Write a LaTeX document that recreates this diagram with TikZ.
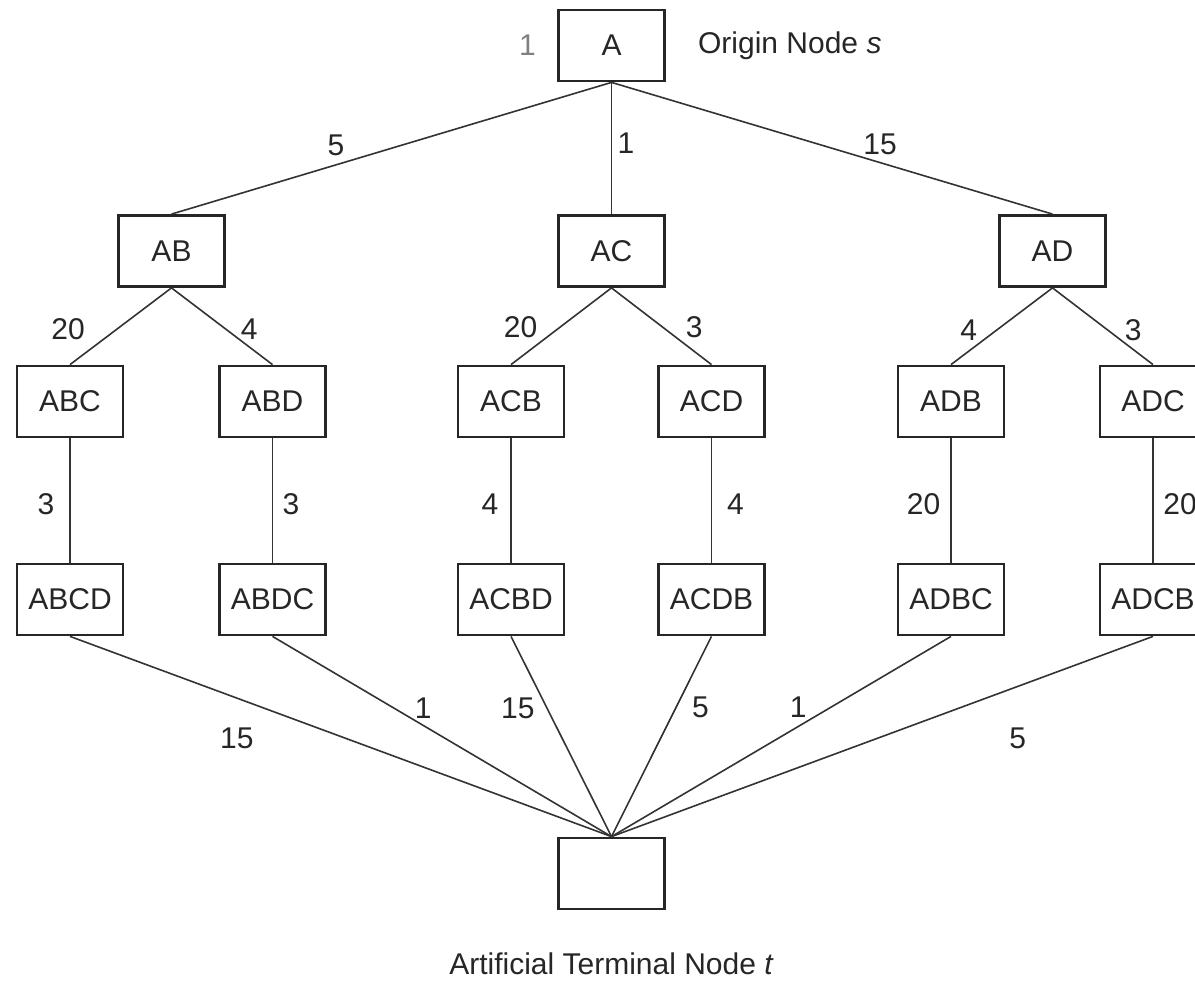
\documentclass[tikz,border=0pt]{standalone}
\usepackage{fontspec}
\setmainfont{Liberation Sans}
\usetikzlibrary{positioning}
\tikzset{
    tree-box/.style = {draw=black!85, line width=2.8pt, rectangle, minimum width=106pt, minimum height=71pt, inner sep=0pt, font=\fontsize{30}{36}\selectfont, text=black!85},
    cost-label/.style = {inner sep=0pt, font=\fontsize{30}{36}\selectfont, text=black!85},
    tree-edge/.style = {draw=black!80, line width=1.6pt},
}

\begin{document}
\begin{tikzpicture}[x=1pt, y=-1pt]
\useasboundingbox (0,0) rectangle (1195,982);

% root
\node[tree-box] (A) at (611.5,45.5) {A};
\node[cost-label, left=21pt of A, text=black!50] (rank) {1};
\node[cost-label, right=32pt of A] (origin) {Origin Node \textit{s}};

% first level
\node[tree-box] (AB) at (171.5,251) {AB};
\node[tree-box] (AC) at (611.5,251) {AC};
\node[tree-box] (AD) at (1052.5,251) {AD};

% second level
\node[tree-box] (ABC) at (70,401.5) {ABC};
\node[tree-box] (ABD) at (272.5,401.5) {ABD};
\node[tree-box] (ACB) at (511,401.5) {ACB};
\node[tree-box] (ACD) at (711.5,401.5) {ACD};
\node[tree-box] (ADB) at (951,401.5) {ADB};
\node[tree-box] (ADC) at (1153,401.5) {ADC};

% complete tours
\node[tree-box] (ABCD) at (70,599.5) {ABCD};
\node[tree-box] (ABDC) at (272.5,599.5) {ABDC};
\node[tree-box] (ACBD) at (511,599.5) {ACBD};
\node[tree-box] (ACDB) at (711.5,599.5) {ACDB};
\node[tree-box] (ADBC) at (951,599.5) {ADBC};
\node[tree-box] (ADCB) at (1153,599.5) {ADCB};

% terminal
\node[tree-box] (T) at (611.5,873.5) {};
\node[cost-label, below=42pt of T] (terminal) {Artificial Terminal Node \textit{t}};

% edges with costs
\draw[tree-edge] (A.south) -- node[cost-label, pos=.626, yshift=20pt] {5} (AB.north);
\draw[tree-edge] (A.south) -- node[cost-label, pos=.46, xshift=14.5pt] {1} (AC.north);
\draw[tree-edge] (A.south) -- node[cost-label, pos=.609, yshift=18pt] {15} (AD.north);

\draw[tree-edge] (AB.south) -- node[cost-label, pos=.536, xshift=-49pt] {20} (ABC.north);
\draw[tree-edge] (AB.south) -- node[cost-label, pos=.536, xshift=23.5pt] {4} (ABD.north);
\draw[tree-edge] (AC.south) -- node[cost-label, pos=.516, xshift=-39pt] {20} (ACB.north);
\draw[tree-edge] (AC.south) -- node[cost-label, pos=.516, xshift=31pt] {3} (ACD.north);
\draw[tree-edge] (AD.south) -- node[cost-label, pos=.549, xshift=-28pt] {4} (ADB.north);
\draw[tree-edge] (AD.south) -- node[cost-label, pos=.549, xshift=25.5pt] {3} (ADC.north);

\draw[tree-edge] (ABC.south) -- node[cost-label, pos=.53, xshift=-24pt] {3} (ABCD.north);
\draw[tree-edge] (ABD.south) -- node[cost-label, pos=.53, xshift=18.5pt] {3} (ABDC.north);
\draw[tree-edge] (ACB.south) -- node[cost-label, pos=.53, xshift=-21pt] {4} (ACBD.north);
\draw[tree-edge] (ACD.south) -- node[cost-label, pos=.53, xshift=24pt] {4} (ACDB.north);
\draw[tree-edge] (ADB.south) -- node[cost-label, pos=.53, xshift=-27.5pt] {20} (ADBC.north);
\draw[tree-edge] (ADC.south) -- node[cost-label, pos=.53, xshift=27pt] {20} (ADCB.north);

\draw[tree-edge] (ABCD.south) -- node[cost-label, pos=.308, yshift=-40pt] {15} (T.north);
\draw[tree-edge] (ABDC.south) -- node[cost-label, pos=.3575, xshift=29.5pt] {1} (T.north);
\draw[tree-edge] (ACBD.south) -- node[cost-label, pos=.3575, xshift=-29pt] {15} (T.north);
\draw[tree-edge] (ACDB.south) -- node[cost-label, pos=.355, xshift=24.5pt] {5} (T.north);
\draw[tree-edge] (ADBC.south) -- node[cost-label, pos=.3525, xshift=-33pt] {1} (T.north);
\draw[tree-edge] (ADCB.south) -- node[cost-label, pos=.25, yshift=-52pt] {5} (T.north);
\end{tikzpicture}
\end{document}
